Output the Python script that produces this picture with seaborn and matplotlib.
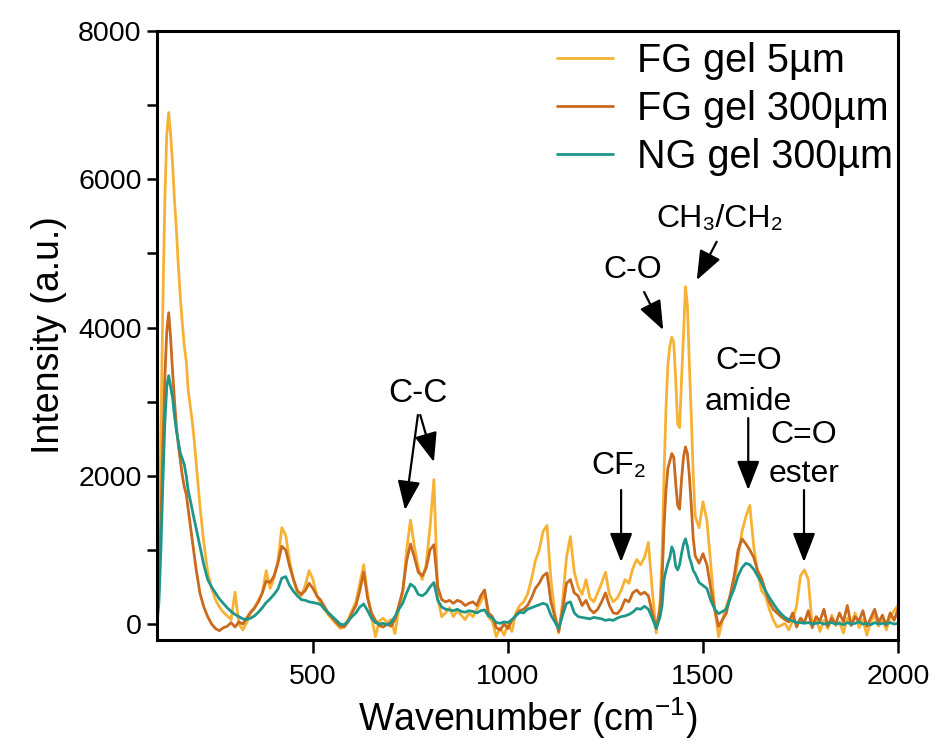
import numpy as np
import pandas as pd
import matplotlib
matplotlib.use("Agg")
import matplotlib.pyplot as plt
import seaborn as sns
from matplotlib.lines import Line2D

# ---------------- data ----------------
wavenumber = (
    [100, 105, 110, 115, 120, 125, 130, 135, 140, 145, 150, 155, 160, 165, 170, 175, 180, 185, 190, 195, 200]
    + [210, 220, 230, 240, 250, 260, 270, 280, 290, 300,
       310, 320, 330, 340, 350, 360, 370, 380, 390, 400,
       410, 420, 430, 440, 450, 460, 470, 480, 490, 500,
       510, 520, 530, 540, 550, 560, 570, 580, 590, 600,
       610, 620, 630, 640, 650, 660, 670, 680, 690, 700,
       710, 720, 730, 740, 750, 760, 770, 780, 790, 800,
       810, 820, 830, 840, 850, 860, 870, 880, 890, 900,
       910, 920, 930, 940, 950, 960, 970, 980, 990, 1000,
       1010, 1020, 1030, 1040, 1050, 1060, 1070, 1080, 1090, 1100,
       1110, 1120, 1130, 1140, 1150, 1160, 1170, 1180, 1190, 1200,
       1210, 1220, 1230, 1240, 1250, 1260, 1270, 1280, 1290, 1300,
       1310, 1320, 1330, 1340, 1350, 1360, 1370, 1380, 1390]
    + [1395, 1400, 1405, 1410, 1415, 1420, 1425, 1430, 1435, 1440,
       1445, 1450, 1455, 1460, 1465, 1470, 1475, 1480]
    + [1490, 1500, 1510, 1520, 1530, 1540, 1550, 1560, 1570, 1580,
       1590, 1600, 1610, 1620, 1630, 1640, 1650, 1660, 1670, 1680,
       1690, 1700, 1710, 1720, 1730, 1740, 1750, 1760, 1770, 1780,
       1790, 1800, 1810, 1820, 1830, 1840, 1850, 1860, 1870, 1880,
       1890, 1900, 1910, 1920, 1930, 1940, 1950, 1960, 1970, 1980,
       1990, 2000]
)

fg_5um = (
    [0, 900, 2600, 4300, 5700, 6600, 6900, 6600, 6200, 5700, 5300, 4800, 4400, 4050, 3750, 3550, 3150, 2950, 2750, 2500, 2200]
    + [1600, 1100, 700, 480, 330, 230, 160, 110, 60, 430,
       0, -80, 20, 150, 210, 320, 420, 720, 480, 620,
       850, 1300, 1200, 850, 600, 420, 380, 520, 720, 600,
       380, 280, 190, 120, 60, 0, -60, -30, 60, 180,
       300, 550, 800, 400, 100, -170, 40, 80, 20, 60,
       -130, 200, 420, 1000, 1400, 1050, 750, 600, 800, 1300,
       1950, 350, 100, 150, 220, 100, 180, 120, 60, 150,
       100, 200, 300, 420, 100, 30, -170, -50, -150, 0,
       -100, 150, 250, 300, 400, 600, 850, 1000, 1250, 1330,
       600, 150, -120, 300, 900, 1180, 700, 500, 400, 600,
       350, 300, 420, 550, 700, 400, 300, 350, 450, 600,
       550, 750, 870, 800, 900, 1100, 450, -120, 300]
    + [900, 2000, 2900, 3500, 3750, 3870, 3800, 3300, 2700, 2650,
       3300, 3900, 4550, 4300, 3500, 2800, 2000, 1450]
    + [1300, 1650, 1400, 800, 200, -170, 50, 250, 380, 500,
       900, 1250, 1450, 1600, 1050, 700, 450, 380, 200, 60,
       -40, -20, 10, -80, 50, 250, 650, 730, 600, -30,
       80, -100, 50, -60, 120, -20, 30, -120, 80, 0,
       150, -50, 60, -150, 30, 120, -30, 80, -80, 100,
       180, 250]
)

fg_300um = (
    [0, 500, 1400, 2400, 3300, 3950, 4200, 3850, 3400, 3000, 2650, 2400, 2200, 2000, 1850, 1750, 1550, 1350, 1150, 950, 750]
    + [420, 230, 100, 0, -60, -90, -50, -30, 20, -40,
       30, 0, 80, 160, 220, 300, 420, 580, 560, 650,
       820, 1050, 1000, 780, 600, 450, 400, 450, 550, 480,
       380, 320, 230, 140, 80, 20, -30, -40, 30, 150,
       250, 450, 700, 350, 150, 50, -20, -40, 0, -30,
       60, 250, 450, 850, 1080, 900, 700, 650, 750, 1000,
       1070, 500, 330, 300, 320, 280, 320, 300, 250, 280,
       300, 250, 380, 460, 150, 100, -50, -80, 0, -60,
       50, 120, 180, 200, 250, 350, 480, 550, 650, 690,
       300, 100, -100, 200, 550, 600, 420, 380, 250, 320,
       200, 150, 200, 300, 420, 250, 150, 140, 200, 330,
       300, 420, 460, 400, 430, 380, 150, -50, 200]
    + [600, 1300, 1800, 2100, 2200, 2300, 2250, 1900, 1600, 1550,
       1950, 2250, 2390, 2300, 2000, 1600, 1150, 920]
    + [820, 950, 800, 480, 200, -30, 60, 150, 400, 650,
       1000, 1150, 1080, 1000, 900, 720, 620, 450, 300, 200,
       150, 100, 60, 30, 150, -40, 80, 20, 180, -50,
       100, 40, 200, -30, 80, 0, 150, 30, 250, -20,
       100, 40, 180, -30, 80, 200, 20, 120, -20, 150,
       50, 200]
)

ng_300um = (
    [0, 300, 1000, 1900, 2700, 3200, 3350, 3200, 3050, 2800, 2600, 2450, 2300, 2230, 2150, 2000, 1800, 1680, 1550, 1420, 1300]
    + [1050, 800, 600, 500, 420, 340, 280, 220, 170, 130,
       100, 70, 60, 80, 110, 160, 220, 290, 340, 400,
       470, 620, 640, 520, 440, 380, 330, 320, 300, 290,
       280, 260, 200, 150, 100, 50, 0, -10, 40, 100,
       150, 230, 270, 180, 80, 20, 0, 10, -10, 20,
       100, 200, 280, 420, 540, 500, 400, 380, 420, 500,
       560, 320, 230, 200, 190, 180, 200, 170, 160, 180,
       170, 150, 180, 190, 110, 80, 20, 10, 30, 20,
       60, 110, 160, 150, 200, 220, 240, 260, 280, 260,
       120, 30, -60, 120, 280, 300, 150, 100, 90, 80,
       70, 90, 80, 70, 50, 60, 50, 80, 100, 110,
       130, 160, 210, 200, 240, 200, 80, -60, 100]
    + [250, 600, 720, 820, 900, 1040, 980, 780, 730, 800,
       950, 1080, 1150, 1050, 900, 820, 720, 680]
    + [560, 520, 480, 320, 200, 140, 170, 200, 350, 480,
       650, 760, 820, 800, 740, 650, 560, 450, 360, 280,
       200, 140, 90, 60, 40, 20, 20, 10, 20, 0,
       10, 20, 0, 10, 20, 0, 10, -10, 20, 0,
       10, 30, 0, 10, -10, 20, 0, 10, 0, 20,
       0, 10]
)

series_names = ["FG gel 5\u00b5m", "FG gel 300\u00b5m", "NG gel 300\u00b5m"]
series_colors = ["#F7B236", "#C96A1E", "#1E978A"]

x_ticks = [500, 1000, 1500, 2000]
y_ticks = [0, 2000, 4000, 6000, 8000]

# ---------------- build long table ----------------
frames = []
for name, vals in zip(series_names, [fg_5um, fg_300um, ng_300um]):
    frames.append(pd.DataFrame({"Wavenumber": wavenumber, "Intensity": vals, "Sample": name}))
df = pd.concat(frames, ignore_index=True)

# ---------------- style ----------------
sns.set_style("ticks")
plt.rcParams["font.family"] = ["Liberation Sans", "DejaVu Sans"]
plt.rcParams["mathtext.fontset"] = "custom"
plt.rcParams["mathtext.rm"] = "Liberation Sans"
plt.rcParams["mathtext.it"] = "Liberation Sans"
plt.rcParams["mathtext.default"] = "regular"
plt.rcParams["text.color"] = "black"
plt.rcParams["axes.labelcolor"] = "black"
plt.rcParams["xtick.color"] = "black"
plt.rcParams["ytick.color"] = "black"

fig = plt.figure(figsize=(9.4, 7.51), dpi=100)
ax = fig.add_axes([157 / 940, 1 - 640 / 751, (898 - 157) / 940, (640 - 31) / 751])

sns.lineplot(data=df, x="Wavenumber", y="Intensity", hue="Sample",
             hue_order=series_names, palette=series_colors,
             estimator=None, sort=False, linewidth=2.0, ax=ax, legend=False)

ax.set_xlim(100, 2000)
ax.set_ylim(-215, 8000)
ax.set_xticks(x_ticks)
ax.set_yticks(y_ticks)
ax.set_yticks([1000, 3000, 5000, 7000], minor=True)
ax.tick_params(axis="both", which="both", direction="out", length=7, width=1.8,
               labelsize=20.5, colors="black", labelcolor="black")
ax.tick_params(axis="x", which="major", length=9, pad=8)
ax.tick_params(axis="y", pad=4)
for sp in ax.spines.values():
    sp.set_visible(True)
    sp.set_linewidth(2.2)
    sp.set_color("black")

ax.set_xlabel("Wavenumber (cm$^{-1}$)", fontsize=27, labelpad=4, color="black")
ax.set_ylabel("Intensity (a.u.)", fontsize=27, labelpad=8, color="black")

handles = [Line2D([0], [0], color=c, lw=2) for c in series_colors]
ax.legend(handles, series_names, loc="upper left", bbox_to_anchor=(0.54, 0.982),
          frameon=False, fontsize=28.5, handlelength=1.41, handletextpad=0.6,
          labelspacing=0.25, borderaxespad=0.0, borderpad=0.0)

# ---------------- annotations ----------------
arrow_kw = dict(arrowstyle="-|>,head_length=0.9,head_width=0.35", color="black", lw=1.6,
                shrinkA=0, shrinkB=0, mutation_scale=20)
fs_ann = 23

ax.text(769, 3116, "C-C", ha="center", va="center", fontsize=24)
ax.annotate("", xy=(736, 1538), xytext=(769, 2820), arrowprops=arrow_kw)
ax.annotate("", xy=(810, 2185), xytext=(775, 2820), arrowprops=arrow_kw)

ax.text(1285, 2131, "CF\u2082", ha="center", va="center", fontsize=fs_ann)
ax.annotate("", xy=(1290, 836), xytext=(1290, 1808), arrowprops=arrow_kw)

ax.text(1320, 4775, "C-O", ha="center", va="center", fontsize=fs_ann)
ax.annotate("", xy=(1398, 3966), xytext=(1349, 4479), arrowprops=arrow_kw)

ax.text(1544, 5464, "CH\u2083/CH\u2082", ha="center", va="center", fontsize=fs_ann)
ax.annotate("", xy=(1484, 4640), xytext=(1535, 5157), arrowprops=arrow_kw)

ax.text(1616, 3548, "C=O", ha="center", va="center", fontsize=fs_ann)
ax.text(1616, 2995, "amide", ha="center", va="center", fontsize=fs_ann)
ax.annotate("", xy=(1616, 1808), xytext=(1616, 2779), arrowprops=arrow_kw)

ax.text(1759, 2550, "C=O", ha="center", va="center", fontsize=fs_ann)
ax.text(1759, 2030, "ester", ha="center", va="center", fontsize=fs_ann)
ax.annotate("", xy=(1759, 836), xytext=(1759, 1808), arrowprops=arrow_kw)

fig.savefig("out.png", dpi=100)
